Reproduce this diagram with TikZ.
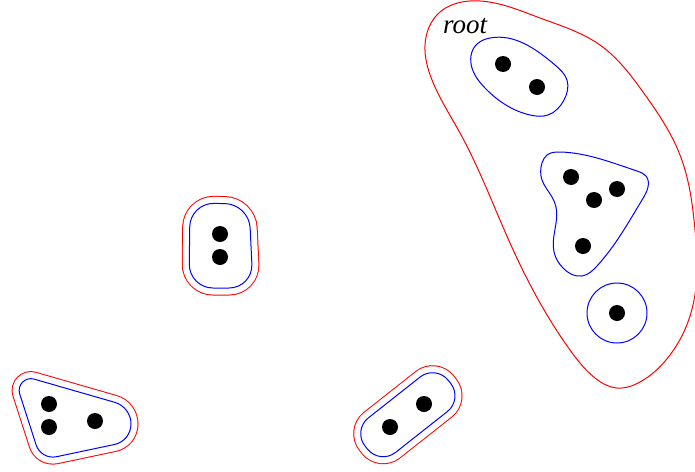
\documentclass[tikz,border=0pt]{standalone}
\usepackage{fontspec}
\setmainfont{Liberation Serif}
\usetikzlibrary{hobby}
\tikzset{
    vertex/.style={circle, fill=black, inner sep=0pt, minimum size=16pt},
    inner/.style={draw=blue, fill=white, line width=1pt},
    outer/.style={draw=red, line width=1pt},
    label/.style={inner sep=0pt, anchor=base west, font=\itshape\fontsize{27}{29}\selectfont}
}
% a blue cluster with a red ring drawn 7pt outside it
\NewDocumentCommand{\ringed}{ m }{
    \draw[red, line width=15pt] #1;
    \draw[white, line width=13pt] #1;
    \draw[inner] #1;
}

\begin{document}
\begin{tikzpicture}[x=1pt, y=-1pt]
    \useasboundingbox (0,0) rectangle (695,471);
    % root
    \draw[outer] plot[closed hobby] coordinates {(425,45) (440,12) (470,1) (540,18) (600,45) (643,92) (680,155) (695,230) (693,305) (670,355) (640,382) (617,388) (595,378) (570,350) (510,243) (460,133) (432,80)};
    \node[label] (root) at (443,33) {root};
    \draw[inner] plot[closed hobby] coordinates {(476,45) (490,38) (555,65) (567,80) (564,100) (548,115) (530,115) (485,88) (472,68)};
    \draw[inner] plot[closed hobby] coordinates {(547,155) (560,152) (637,171) (646,176) (648,187) (642,200) (597,266) (582,276) (563,268) (554,252) (556,207) (552,197) (542,180) (542,163)};
    \draw[inner] (617,313) circle[radius=30];
    \node[vertex] (r1) at (503,64) {};
    \node[vertex] (r2) at (537,87) {};
    \node[vertex] (r3) at (571,177) {};
    \node[vertex] (r4) at (617,189) {};
    \node[vertex] (r5) at (594,200) {};
    \node[vertex] (r6) at (583,246) {};
    \node[vertex] (r7) at (617,313) {};
    % the three others
    \ringed{[rounded corners=24pt] (190,203) -- (249,204) -- (253,288) -- (189,288) -- cycle}
    \ringed{(34.1,379.1) -- (114.7,402.3) .. controls (124.4,405.1) and (131,413.9) .. (131,424) .. controls (131,433.9) and (124.1,442.5) .. (114.4,444.5) -- (56.6,456.7) .. controls (47.7,458.6) and (38.9,453.5) .. (36.1,444.8) -- (19.7,393.9) .. controls (16.9,385.1) and (25.2,376.5) .. cycle}
    \ringed{[rounded corners=20pt] (394.2,397.5) -- (435.8,364.6) -- (463.1,399.1) -- (379.9,464.8) -- (352.6,430.3) -- cycle}
    \node[vertex] (a1) at (220,234) {};
    \node[vertex] (a2) at (220,257) {};
    \node[vertex] (b1) at (49,404) {};
    \node[vertex] (b2) at (49,427) {};
    \node[vertex] (b3) at (95,421) {};
    \node[vertex] (c1) at (390,427) {};
    \node[vertex] (c2) at (424,404) {};
\end{tikzpicture}
\end{document}
